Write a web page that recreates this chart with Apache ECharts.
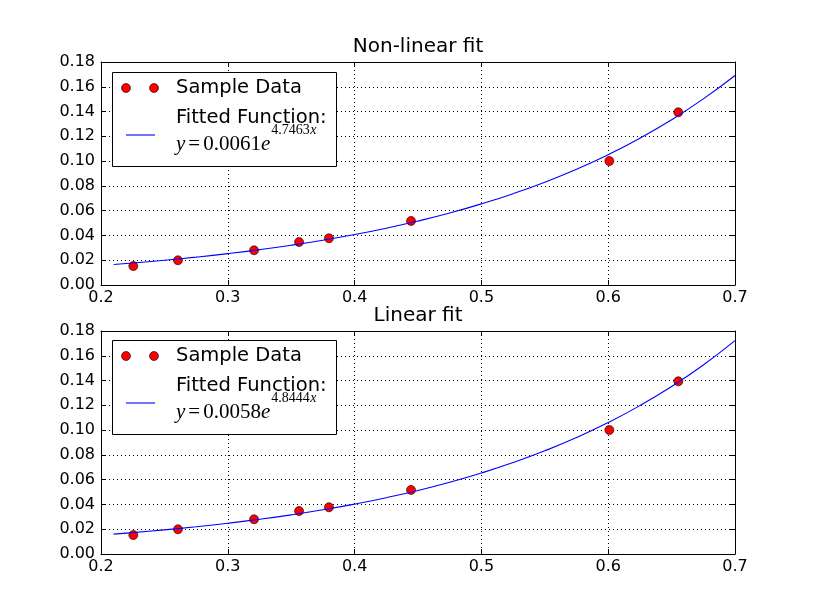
<!DOCTYPE html>
<html><head><meta charset="utf-8">
<script src="https://cdn.jsdelivr.net/npm/echarts@6/dist/echarts.min.js"></script>
<style>html,body{margin:0;padding:0;background:#fff}#c{width:815px;height:615px}</style>
</head><body><div id="c"></div>
<script>
const titles = ['Non-linear fit', 'Linear fit'];
const sampleX = [0.2255, 0.2607, 0.3207, 0.3562, 0.3798, 0.4445, 0.6009, 0.6553];
const sampleY = [0.0153, 0.0199, 0.0280, 0.0347, 0.0377, 0.0517, 0.1001, 0.1394];
const fitX = [0.21, 0.225, 0.25, 0.275, 0.3, 0.325, 0.35, 0.375, 0.4, 0.425, 0.45, 0.475, 0.5, 0.525, 0.55, 0.575, 0.6, 0.625, 0.65, 0.675, 0.7];
const fitYNonLinear = [0.01653, 0.01775, 0.01998, 0.02250, 0.02534, 0.02853, 0.03212, 0.03617, 0.04073, 0.04586, 0.05164, 0.05814, 0.06547, 0.07371, 0.08300, 0.09345, 0.10523, 0.11848, 0.13341, 0.15021, 0.16914];
const fitYLinear = [0.01604, 0.01725, 0.01947, 0.02198, 0.02481, 0.02800, 0.03161, 0.03568, 0.04027, 0.04546, 0.05131, 0.05792, 0.06537, 0.07379, 0.08329, 0.09401, 0.10612, 0.11978, 0.13520, 0.15260, 0.17225];
const xTickLabels = ['0.2', '0.3', '0.4', '0.5', '0.6', '0.7'];
const yTickLabels = ['0.00', '0.02', '0.04', '0.06', '0.08', '0.10', '0.12', '0.14', '0.16', '0.18'];
const legendLabels = ['Sample Data', 'Fitted Function:'];
const fitCoefA = ['0.0061', '0.0058'];
const fitCoefB = ['4.7463', '4.8444'];

const gridTops = [62, 331];
const legendTops = [72, 340];
const fitYs = [fitYNonLinear, fitYLinear];

const chart = echarts.init(document.getElementById('c'), null, {renderer: 'canvas'});
const mctx = document.createElement('canvas').getContext('2d');
function measure(text, font) { mctx.font = font; return mctx.measureText(text).width; }

const grids = [], xAxes = [], yAxes = [], series = [], titleArr = [], graphics = [];
const tickFont = {color: '#000', fontSize: 16, fontFamily: 'DejaVu Sans'};

gridTops.forEach((top, gi) => {
  grids.push({left: 101, top: top, width: 634, height: 223, containLabel: false});
  const xBase = {type: 'value', gridIndex: gi, min: 0.2, max: 0.7, interval: 0.1,
    axisLine: {show: true, onZero: false, lineStyle: {color: '#000', width: 1}},
    axisTick: {show: true, inside: true, length: 5, lineStyle: {color: '#000'}}};
  xAxes.push(Object.assign({}, xBase, {position: 'bottom',
    axisLabel: Object.assign({margin: 5, formatter: (v, i) => xTickLabels[i] !== undefined ? xTickLabels[i] : v.toFixed(1)}, tickFont),
    splitLine: {show: true, lineStyle: {color: '#000', width: 1, type: [1, 3]}}}));
  xAxes.push(Object.assign({}, xBase, {position: 'top', axisLabel: {show: false}, splitLine: {show: false}}));
  const yBase = {type: 'value', gridIndex: gi, min: 0, max: 0.18, interval: 0.02,
    axisLine: {show: true, onZero: false, lineStyle: {color: '#000', width: 1}},
    axisTick: {show: true, inside: true, length: 5, lineStyle: {color: '#000'}}};
  yAxes.push(Object.assign({}, yBase, {position: 'left',
    axisLabel: Object.assign({margin: 6, formatter: (v, i) => yTickLabels[i] !== undefined ? yTickLabels[i] : v.toFixed(2)}, tickFont),
    splitLine: {show: true, lineStyle: {color: '#000', width: 1, type: [1, 3]}}}));
  yAxes.push(Object.assign({}, yBase, {position: 'right', axisLabel: {show: false}, splitLine: {show: false}}));

  series.push({type: 'scatter', xAxisIndex: gi * 2, yAxisIndex: gi * 2, z: 2,
    symbol: 'circle', symbolSize: 9,
    itemStyle: {color: '#ff0000', borderColor: '#000', borderWidth: 0.6, opacity: 1},
    data: sampleX.map((x, i) => [x, sampleY[i]])});
  series.push({type: 'line', xAxisIndex: gi * 2, yAxisIndex: gi * 2, z: 3,
    showSymbol: false, smooth: true, lineStyle: {color: '#0000ff', width: 1.1},
    data: fitX.map((x, i) => [x, fitYs[gi][i]])});

  titleArr.push({text: titles[gi], left: 418, top: top - 25, textAlign: 'center', padding: 0,
    textStyle: {color: '#000', fontSize: 20, fontWeight: 'normal', fontFamily: 'DejaVu Sans'}});

  const T = legendTops[gi];
  graphics.push({type: 'rect', z: 100, shape: {x: 112.5, y: T + 0.5, width: 224, height: 94},
    style: {fill: '#fff', stroke: '#000', lineWidth: 1}});
  [126, 154].forEach(cx => graphics.push({type: 'circle', z: 101, shape: {cx: cx, cy: T + 16, r: 4.5},
    style: {fill: '#ff0000', stroke: '#000', lineWidth: 0.6}}));
  graphics.push({type: 'text', z: 101, x: 176, y: T + 16,
    style: {text: legendLabels[0], fill: '#000', font: '19.5px "DejaVu Sans"', verticalAlign: 'middle'}});
  graphics.push({type: 'text', z: 101, x: 176, y: T + 46,
    style: {text: legendLabels[1], fill: '#000', font: '19.5px "DejaVu Sans"', verticalAlign: 'middle'}});
  graphics.push({type: 'line', z: 101, shape: {x1: 126, y1: T + 63, x2: 155, y2: T + 63},
    style: {stroke: '#0000ff', lineWidth: 1.1}});

  // math label  y = a e^{b x}
  const mainI = 'italic 21px "Liberation Serif"', mainN = '21px "Liberation Serif"';
  const supN = '14px "Liberation Serif"', supI = 'italic 14px "Liberation Serif"';
  const parts = [
    {t: 'y', f: mainI, sup: false, gapAfter: 3},
    {t: '=', f: mainN, sup: false, gapAfter: 3},
    {t: fitCoefA[gi], f: mainN, sup: false, gapAfter: 0},
    {t: 'e', f: mainI, sup: false, gapAfter: 1},
    {t: fitCoefB[gi], f: supN, sup: true, gapAfter: 0.5},
    {t: 'x', f: supI, sup: true, gapAfter: 0}
  ];
  let cx = 176;
  parts.forEach(p => {
    graphics.push({type: 'text', z: 101, x: cx, y: p.sup ? T + 58 : T + 72,
      style: {text: p.t, font: p.f, fill: '#000', verticalAlign: 'middle'}});
    cx += measure(p.t, p.f) + p.gapAfter;
  });
});

chart.setOption({
  animation: false,
  backgroundColor: '#fff',
  title: titleArr,
  grid: grids,
  xAxis: xAxes,
  yAxis: yAxes,
  series: series,
  graphic: graphics
});
</script>
</body></html>
